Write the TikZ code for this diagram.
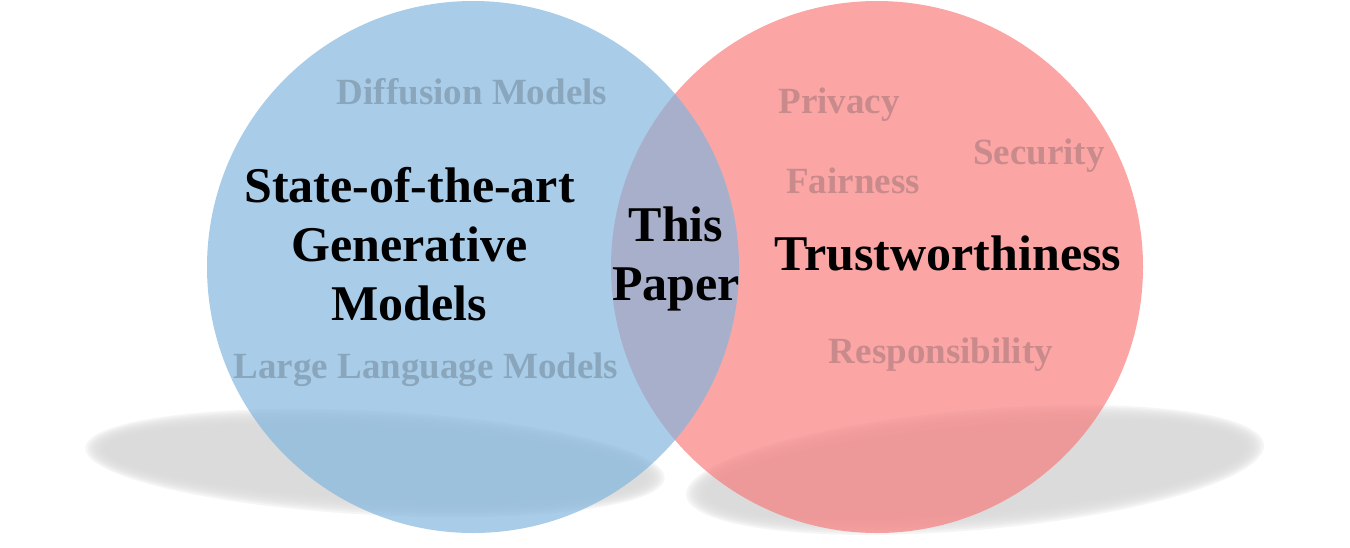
\documentclass[tikz,border=0pt]{standalone}
\usepackage{fontspec}
\setmainfont{Liberation Serif}
\definecolor{cblue}{RGB}{128,181,221}
\definecolor{cred}{RGB}{249,123,123}
\definecolor{tblue}{HTML}{8AA6BC}
\definecolor{tred}{HTML}{C98A8C}
\definecolor{shade}{HTML}{D8D8D8}
\begin{document}
\begin{tikzpicture}[x=1pt,y=-1pt,
  setcircle/.style={circle, inner sep=0pt, minimum size=532pt, draw=none, fill opacity=0.68},
  bigtext/.style={font=\bfseries\fontsize{50}{59}\selectfont, text=black, inner sep=0pt, anchor=base},
  smallblue/.style={font=\bfseries\fontsize{37}{44}\selectfont, text=tblue, inner sep=0pt, anchor=base},
  smallred/.style={font=\bfseries\fontsize{37}{44}\selectfont, text=tred, inner sep=0pt, anchor=base},
  shadowlayer/.style={fill=shade, opacity=0.25}]
\useasboundingbox (0,0) rectangle (1350,547);
% shadows
\foreach \k in {0,...,8}{
  \fill[shadowlayer, rotate around={-3:(375,463)}] (375,463) ellipse ({290-2.5*\k} and {52-2*\k});
  \fill[shadowlayer, rotate around={5:(975,470)}] (975,470) ellipse ({290-2.5*\k} and {60-2*\k});
}
% circles
\node[setcircle, fill=cred] (red) at (877,267) {};
\node[setcircle, fill=cblue] (blue) at (473,267) {};
% texts
\node[bigtext] (gen) at (409.5,202) {\begin{tabular}[t]{@{}c@{}}State-of-the-art\\Generative\\Models\end{tabular}};
\node[bigtext] (paper) at (676,241) {\begin{tabular}[t]{@{}c@{}}This\\Paper\end{tabular}};
\node[bigtext] (trust) at (948,270) {Trustworthiness};
\node[smallblue] (diff) at (472,104) {Diffusion Models};
\node[smallblue] (llm) at (426,378) {Large Language Models};
\node[smallred] (priv) at (839,113) {Privacy};
\node[smallred] (sec) at (1039,164) {Security};
\node[smallred] (fair) at (853,193) {Fairness};
\node[smallred] (resp) at (941,363) {Responsibility};
\end{tikzpicture}
\end{document}
